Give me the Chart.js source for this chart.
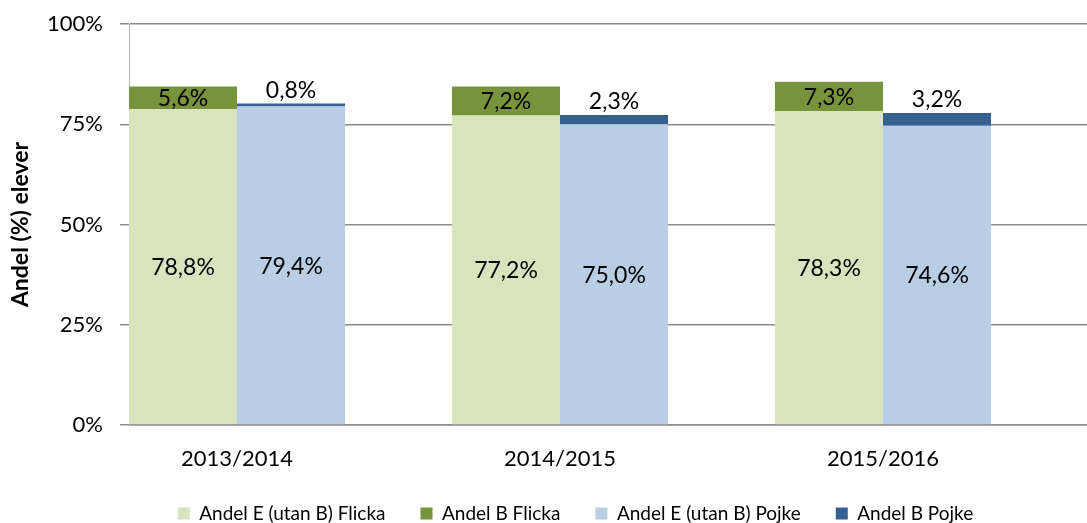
<!DOCTYPE html>
<html>
<head>
<meta charset="utf-8">
<script src="https://cdn.jsdelivr.net/npm/chart.js@4/dist/chart.umd.min.js"></script>
<style>
  html, body { margin: 0; padding: 0; background: #fff; }
  #wrap { width: 1087px; height: 523px; }
</style>
</head>
<body>
<div id="wrap"><canvas id="chart"></canvas></div>
<script>
const years = ['2013/2014', '2014/2015', '2015/2016'];
const flickaE = [78.8, 77.2, 78.3];
const flickaB = [5.6, 7.2, 7.3];
const pojkeE = [79.4, 75.0, 74.6];
const pojkeB = [0.8, 2.3, 3.2];
const yTicks = [0, 25, 50, 75, 100];

const FONT = 'Lato, "Open Sans", sans-serif';

// bars sit on a linear x axis so the groups can hug the left axis like the original
const points = (arr) => arr.map((v, i) => ({ x: i, y: v }));

const fmt = (v) => v.toFixed(1).replace('.', ',') + '%';

// Data labels: centered in the segment, or above it if the segment is too thin
const barLabels = {
  id: 'barLabels',
  afterDatasetsDraw(chart) {
    const ctx = chart.ctx;
    ctx.save();
    ctx.font = '23px ' + FONT;
    ctx.fillStyle = '#000';
    ctx.textAlign = 'center';
    ctx.textBaseline = 'middle';
    chart.data.datasets.forEach((ds, i) => {
      const meta = chart.getDatasetMeta(i);
      meta.data.forEach((bar, j) => {
        const p = bar.getProps(['x', 'y', 'base'], true);
        const h = p.base - p.y;
        const y = h < 16 ? p.y - 13 : (p.y + p.base) / 2 + 1;
        ctx.fillText(fmt(ds.data[j].y), p.x, y);
      });
    });
    ctx.restore();
  }
};

// keep the legend box short (its padding is only wanted between items)
// and nudge it right like the original
const legendFit = {
  id: 'legendFit',
  beforeInit(chart) {
    const fit = chart.legend.fit;
    chart.legend.fit = function () {
      fit.call(this);
      this.height = 54;
    };
  },
  afterLayout(chart) {
    chart.legend.left += 32;
    chart.legend.right += 32;
  }
};

new Chart(document.getElementById('chart'), {
  type: 'bar',
  data: {
    datasets: [
      { label: 'Andel E (utan B) Flicka', data: points(flickaE), backgroundColor: '#D7E4BD', stack: 'flicka' },
      { label: 'Andel B Flicka', data: points(flickaB), backgroundColor: '#77933C', stack: 'flicka' },
      { label: 'Andel E (utan B) Pojke', data: points(pojkeE), backgroundColor: '#B9CDE5', stack: 'pojke' },
      { label: 'Andel B Pojke', data: points(pojkeB), backgroundColor: '#376092', stack: 'pojke' }
    ]
  },
  options: {
    responsive: true,
    maintainAspectRatio: false,
    animation: false,
    layout: { padding: { top: 24, right: 0, bottom: 0, left: 0 } },
    datasets: {
      bar: { categoryPercentage: 0.669, barPercentage: 1, borderWidth: 0 }
    },
    plugins: {
      tooltip: { enabled: false },
      legend: {
        position: 'bottom',
        labels: {
          font: { family: FONT, size: 19 },
          color: '#000',
          boxWidth: 12,
          boxHeight: 12,
          padding: 35
        }
      }
    },
    scales: {
      x: {
        type: 'linear',
        offset: false,
        stacked: true,
        min: -0.3344,
        max: 2.6316,
        afterBuildTicks: (scale) => { scale.ticks = years.map((_, i) => ({ value: i })); },
        afterFit: (scale) => { scale.height = 44; },
        ticks: {
          font: { family: FONT, size: 22 },
          color: '#000',
          padding: 21,
          callback: (v) => years[v]
        },
        grid: { display: false, drawTicks: false, offset: false },
        border: { display: true, color: '#8c8c8c', width: 1.5 }
      },
      y: {
        stacked: true,
        min: 0,
        max: 100,
        afterBuildTicks: (scale) => { scale.ticks = yTicks.map(v => ({ value: v })); },
        afterFit: (scale) => {
          scale.width = 129;
          scale.paddingTop = 0;
          scale.paddingBottom = 0;
        },
        ticks: {
          font: { family: FONT, size: 22 },
          color: '#000',
          padding: 17,
          callback: (v) => v + '%'
        },
        grid: { color: '#8c8c8c', lineWidth: 1.5, tickLength: 9 },
        border: { display: true, color: '#b4b4b4', width: 1 },
        title: {
          display: true,
          text: 'Andel (%) elever',
          font: { family: FONT, size: 23, weight: 'bold' },
          color: '#000',
          padding: { top: 7, bottom: 0 }
        }
      }
    }
  },
  plugins: [barLabels, legendFit]
});
</script>
</body>
</html>
